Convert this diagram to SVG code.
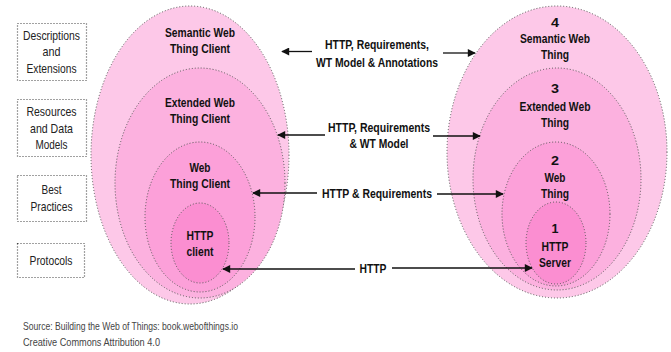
<svg xmlns="http://www.w3.org/2000/svg" width="671" height="352" viewBox="0 0 671 352">
<defs>
<style>
.e{stroke:#555;stroke-width:1;stroke-dasharray:1 2}
.l1{fill:#fdc8e8}.l2{fill:#fcb1df}.l3{fill:#fca0d9}.l4{fill:#fb8ed1}
.t{font-family:"Liberation Sans",Arial,sans-serif;font-weight:bold;font-size:13.5px;fill:#111;text-anchor:middle}
.b{font-family:"Liberation Sans",Arial,sans-serif;font-size:13px;fill:#222;text-anchor:middle}
.box{fill:#fff;stroke:#444;stroke-width:1.2;stroke-dasharray:1 2}
.c{stroke:#111;stroke-width:1.3;fill:none}
.src{font-family:"Liberation Sans",Arial,sans-serif;font-size:10.5px;fill:#444}
</style>
<marker id="ah" viewBox="0 0 10 10" refX="9" refY="5" markerWidth="9" markerHeight="8" markerUnits="userSpaceOnUse" orient="auto">
<path d="M0,0 L10,5 L0,10 z" fill="#111"/>
</marker>
</defs>
<rect width="671" height="352" fill="#fff"/>

<g id="box-descriptions">
<rect class="box" x="17.5" y="23.5" width="69" height="57"/>
<text class="b" x="51.5" y="39.5" textLength="57" lengthAdjust="spacingAndGlyphs">Descriptions</text>
<text class="b" x="51.5" y="56" textLength="18" lengthAdjust="spacingAndGlyphs">and</text>
<text class="b" x="51.5" y="72.5" textLength="50" lengthAdjust="spacingAndGlyphs">Extensions</text>
</g>
<g id="box-resources">
<rect class="box" x="17.5" y="99.5" width="69" height="57"/>
<text class="b" x="51.5" y="116" textLength="50" lengthAdjust="spacingAndGlyphs">Resources</text>
<text class="b" x="51.5" y="132.5" textLength="43" lengthAdjust="spacingAndGlyphs">and Data</text>
<text class="b" x="51.5" y="148.5" textLength="32" lengthAdjust="spacingAndGlyphs">Models</text>
</g>
<g id="box-best">
<rect class="box" x="17.5" y="175.5" width="69" height="46"/>
<text class="b" x="51.5" y="194" textLength="20" lengthAdjust="spacingAndGlyphs">Best</text>
<text class="b" x="51.5" y="210.5" textLength="42" lengthAdjust="spacingAndGlyphs">Practices</text>
</g>
<g id="box-protocols">
<rect class="box" x="17.5" y="243.5" width="67" height="34"/>
<text class="b" x="51" y="264.5" textLength="43" lengthAdjust="spacingAndGlyphs">Protocols</text>
</g>

<g id="client-semantic">
<ellipse class="e l1" cx="190" cy="155" rx="99" ry="149"/>
<text class="t" x="200" y="37" textLength="70" lengthAdjust="spacingAndGlyphs">Semantic Web</text>
<text class="t" x="200" y="53" textLength="60" lengthAdjust="spacingAndGlyphs">Thing Client</text>
</g>
<g id="client-extended">
<ellipse class="e l2" cx="200" cy="183" rx="85" ry="115"/>
<text class="t" x="200" y="107" textLength="70" lengthAdjust="spacingAndGlyphs">Extended Web</text>
<text class="t" x="200" y="123" textLength="60" lengthAdjust="spacingAndGlyphs">Thing Client</text>
</g>
<g id="client-web">
<ellipse class="e l3" cx="200" cy="217" rx="55" ry="75"/>
<text class="t" x="200" y="172" textLength="21" lengthAdjust="spacingAndGlyphs">Web</text>
<text class="t" x="200" y="188" textLength="60" lengthAdjust="spacingAndGlyphs">Thing Client</text>
</g>
<g id="client-http">
<ellipse class="e l4" cx="200" cy="243" rx="29" ry="40"/>
<text class="t" x="200" y="240" textLength="27" lengthAdjust="spacingAndGlyphs">HTTP</text>
<text class="t" x="200" y="256" textLength="27" lengthAdjust="spacingAndGlyphs">client</text>
</g>

<g id="thing-semantic">
<ellipse class="e l1" cx="557" cy="152" rx="110" ry="146"/>
<text class="t" x="555" y="27" textLength="8" lengthAdjust="spacingAndGlyphs">4</text>
<text class="t" x="555" y="43" textLength="70" lengthAdjust="spacingAndGlyphs">Semantic Web</text>
<text class="t" x="555" y="58.5" textLength="28" lengthAdjust="spacingAndGlyphs">Thing</text>
</g>
<g id="thing-extended">
<ellipse class="e l2" cx="557" cy="179" rx="84" ry="111"/>
<text class="t" x="555" y="93" textLength="8" lengthAdjust="spacingAndGlyphs">3</text>
<text class="t" x="555" y="111" textLength="71" lengthAdjust="spacingAndGlyphs">Extended Web</text>
<text class="t" x="555" y="127" textLength="28" lengthAdjust="spacingAndGlyphs">Thing</text>
</g>
<g id="thing-web">
<ellipse class="e l3" cx="556" cy="214" rx="54" ry="72"/>
<text class="t" x="555" y="165" textLength="8" lengthAdjust="spacingAndGlyphs">2</text>
<text class="t" x="555" y="182" textLength="21" lengthAdjust="spacingAndGlyphs">Web</text>
<text class="t" x="555" y="198" textLength="28" lengthAdjust="spacingAndGlyphs">Thing</text>
</g>
<g id="thing-http">
<ellipse class="e l4" cx="556" cy="243" rx="30" ry="41"/>
<text class="t" x="555" y="233" textLength="7" lengthAdjust="spacingAndGlyphs">1</text>
<text class="t" x="555" y="251" textLength="27" lengthAdjust="spacingAndGlyphs">HTTP</text>
<text class="t" x="555" y="267" textLength="32" lengthAdjust="spacingAndGlyphs">Server</text>
</g>

<g id="connectors">
<line class="c" x1="312" y1="51.5" x2="282" y2="51.5" marker-end="url(#ah)"/>
<line class="c" x1="443" y1="53" x2="475" y2="53" marker-end="url(#ah)"/>
<text class="t" x="377" y="48.5" textLength="104" lengthAdjust="spacingAndGlyphs">HTTP, Requirements,</text>
<text class="t" x="377" y="66.5" textLength="122" lengthAdjust="spacingAndGlyphs">WT Model &amp; Annotations</text>

<line class="c" x1="325" y1="135" x2="278" y2="135" marker-end="url(#ah)"/>
<line class="c" x1="433" y1="136" x2="480" y2="136" marker-end="url(#ah)"/>
<text class="t" x="379" y="131.5" textLength="102" lengthAdjust="spacingAndGlyphs">HTTP, Requirements</text>
<text class="t" x="379" y="148" textLength="59" lengthAdjust="spacingAndGlyphs">&amp; WT Model</text>

<line class="c" x1="317" y1="193" x2="253" y2="193" marker-end="url(#ah)"/>
<line class="c" x1="437" y1="194" x2="503" y2="194" marker-end="url(#ah)"/>
<text class="t" x="377" y="198" textLength="110" lengthAdjust="spacingAndGlyphs">HTTP &amp; Requirements</text>

<line class="c" x1="355" y1="269" x2="223" y2="269" marker-end="url(#ah)"/>
<line class="c" x1="392" y1="268" x2="532" y2="268" marker-end="url(#ah)"/>
<text class="t" x="373" y="273" textLength="27" lengthAdjust="spacingAndGlyphs">HTTP</text>
</g>

<text class="src" x="23" y="330" textLength="215" lengthAdjust="spacingAndGlyphs">Source: Building the Web of Things: book.webofthings.io</text>
<text class="src" x="23" y="346" textLength="137" lengthAdjust="spacingAndGlyphs">Creative Commons Attribution 4.0</text>
</svg>
